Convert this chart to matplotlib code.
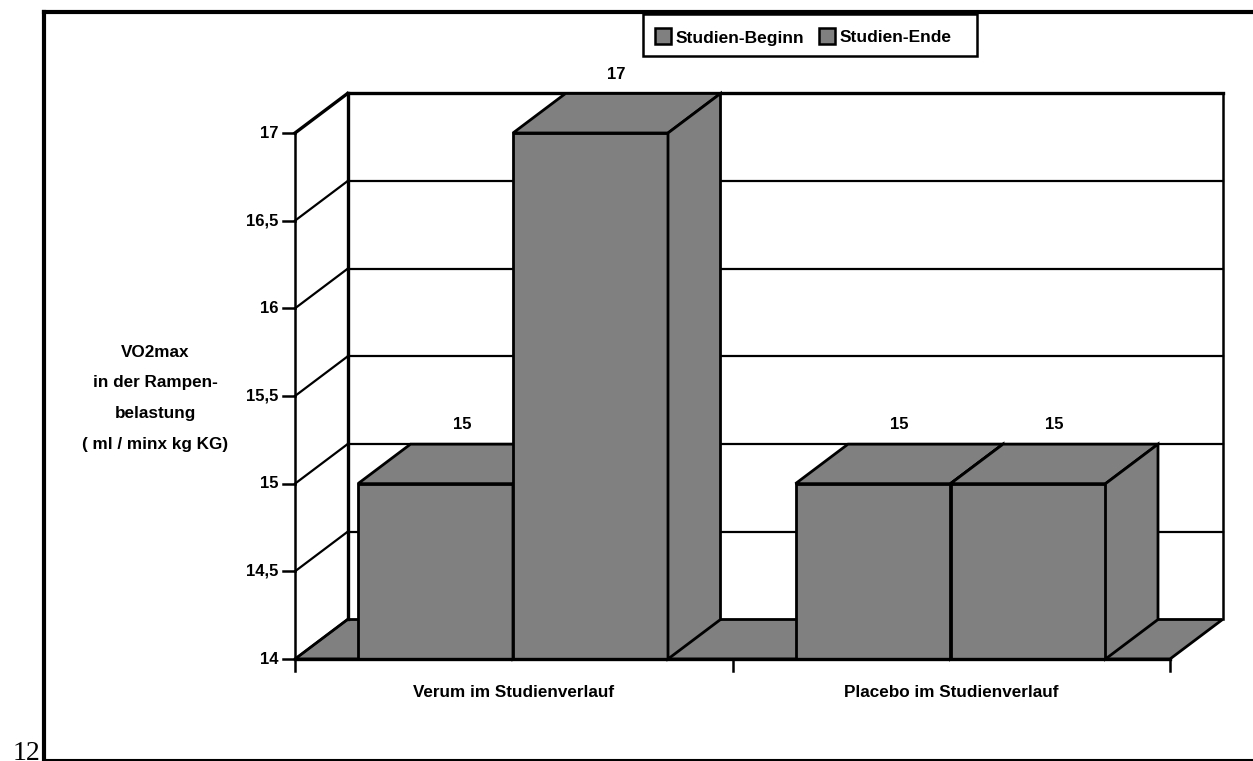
import matplotlib
matplotlib.use('Agg')
import matplotlib.pyplot as plt
from matplotlib.patches import Rectangle
from matplotlib.lines import Line2D

categories = ['Verum im Studienverlauf', 'Placebo im Studienverlauf']
series_names = ['Studien-Beginn', 'Studien-Ende']
beginn = [15, 15]
ende = [17, 15]
y_ticks = [14, 14.5, 15, 15.5, 16, 16.5, 17]
y_tick_labels = ['14', '14,5', '15', '15,5', '16', '16,5', '17']
y_title = ['VO2max', 'in der Rampen-', 'belastung', '( ml / minx kg KG)']

GREY = '#808080'
W, H = 1253, 761

plt.rcParams['font.family'] = ['Liberation Sans', 'DejaVu Sans']
plt.rcParams['font.weight'] = 'bold'

fig = plt.figure(figsize=(W / 100, H / 100), dpi=100)
# axes = front plane of the 3d box, pixel box 295-1170 / y 14 at 659
ax = fig.add_axes([295 / W, 1 - 659 / H, 875 / W, (659 - 133) / H])
ax.set_xlim(0, 2)
ax.set_ylim(14, 17)
ax.axis('off')

# depth of the fake 3d, in data units
dx = 52.5 / 437.5
dy = 39.5 / 175.33
bar_w = 155 / 437.5
gap = 63 / 437.5


def line(xs, ys, lw=2.0, z=2):
    ax.plot(xs, ys, color='black', lw=lw, clip_on=False, zorder=z, solid_capstyle='projecting')


def box(x0, x1, v, z):
    base = 14
    ax.fill([x0, x1, x1, x0], [base, base, v, v], fc=GREY, ec='black', lw=2.0, clip_on=False, zorder=z)
    ax.fill([x0, x1, x1 + dx, x0 + dx], [v, v, v + dy, v + dy], fc=GREY, ec='black', lw=2.0, clip_on=False, zorder=z)
    ax.fill([x1, x1 + dx, x1 + dx, x1], [base, base + dy, v + dy, v], fc=GREY, ec='black', lw=2.0, clip_on=False, zorder=z)


# floor
ax.fill([0, dx, 2 + dx, 2], [14, 14 + dy, 14 + dy, 14], fc=GREY, ec='black', lw=2.0, clip_on=False, zorder=1)

# walls and gridlines
line([dx, dx], [14 + dy, 17 + dy], lw=2.4)
line([2 + dx, 2 + dx], [14 + dy, 17 + dy], lw=1.8)
line([0, 0], [14, 17], lw=1.8)
for t, lab in zip(y_ticks, y_tick_labels):
    lw = 2.4 if t == 17 else 1.6
    if t > 14:
        line([dx, 2 + dx], [t + dy, t + dy], lw=lw)
    line([0, dx], [t, t + dy], lw=lw)
    ax.annotate(lab, (0, t), xytext=(-12, 0), textcoords='offset points',
                ha='right', va='center', fontsize=12, annotation_clip=False)
    ax.plot([-12 / 437.5, 0], [t, t], color='black', lw=1.8, clip_on=False, zorder=2)

# x axis line and ticks
line([0, 2], [14, 14], lw=2.4, z=30)
for xt in [0, 1, 2]:
    ax.plot([xt, xt], [14, 14 - 12 / 175.33], color='black', lw=1.8, clip_on=False, zorder=2)

# bars, left to right
for i in range(len(categories)):
    x0 = i + gap
    box(x0, x0 + bar_w, beginn[i], 10 + i * 2)
    box(x0 + bar_w, x0 + 2 * bar_w, ende[i], 11 + i * 2)
    for x, v in [(x0, beginn[i]), (x0 + bar_w, ende[i])]:
        ax.annotate(str(v), (x + bar_w / 2 + dx / 2, v + dy), xytext=(0, 14), textcoords='offset points',
                    ha='center', va='center', fontsize=12, annotation_clip=False)
    ax.annotate(categories[i], (i + 0.5, 14), xytext=(0, -24), textcoords='offset points',
                ha='center', va='center', fontsize=12.3, annotation_clip=False)

# y title
for j, s in enumerate(y_title):
    fig.text(155 / W, 1 - (352 + j * 31) / H, s, ha='center', va='center', fontsize=12.3)

# stray page number, cut off by the frame
fig.text(13 / W, 1 - 741 / H, '12', family='Liberation Serif', fontweight='normal', fontsize=20, ha='left', va='top')

# outer frame, open on the right
fig.add_artist(Line2D([44 / W, 44 / W], [0, 1 - 12 / H], color='black', lw=3.0))
fig.add_artist(Line2D([44 / W, 1], [1 - 12 / H, 1 - 12 / H], color='black', lw=3.0))
fig.add_artist(Line2D([44 / W, 1], [1 / H, 1 / H], color='black', lw=1.5))

# legend box
fig.add_artist(Rectangle((643 / W, 1 - 56 / H), 334 / W, 42 / H, fc='white', ec='black', lw=1.8,
                         transform=fig.transFigure, zorder=5))
swatch_x = [655, 819]
text_x = [676, 840]
for sx, tx, name in zip(swatch_x, text_x, series_names):
    fig.add_artist(Rectangle((sx / W, 1 - 44 / H), 16 / W, 16 / H, fc=GREY, ec='black', lw=1.8,
                             transform=fig.transFigure, zorder=6))
    fig.text(tx / W, 1 - 42.5 / H, name, ha='left', va='baseline', fontsize=12.5, zorder=6)

fig.savefig('out.png', dpi=100)
